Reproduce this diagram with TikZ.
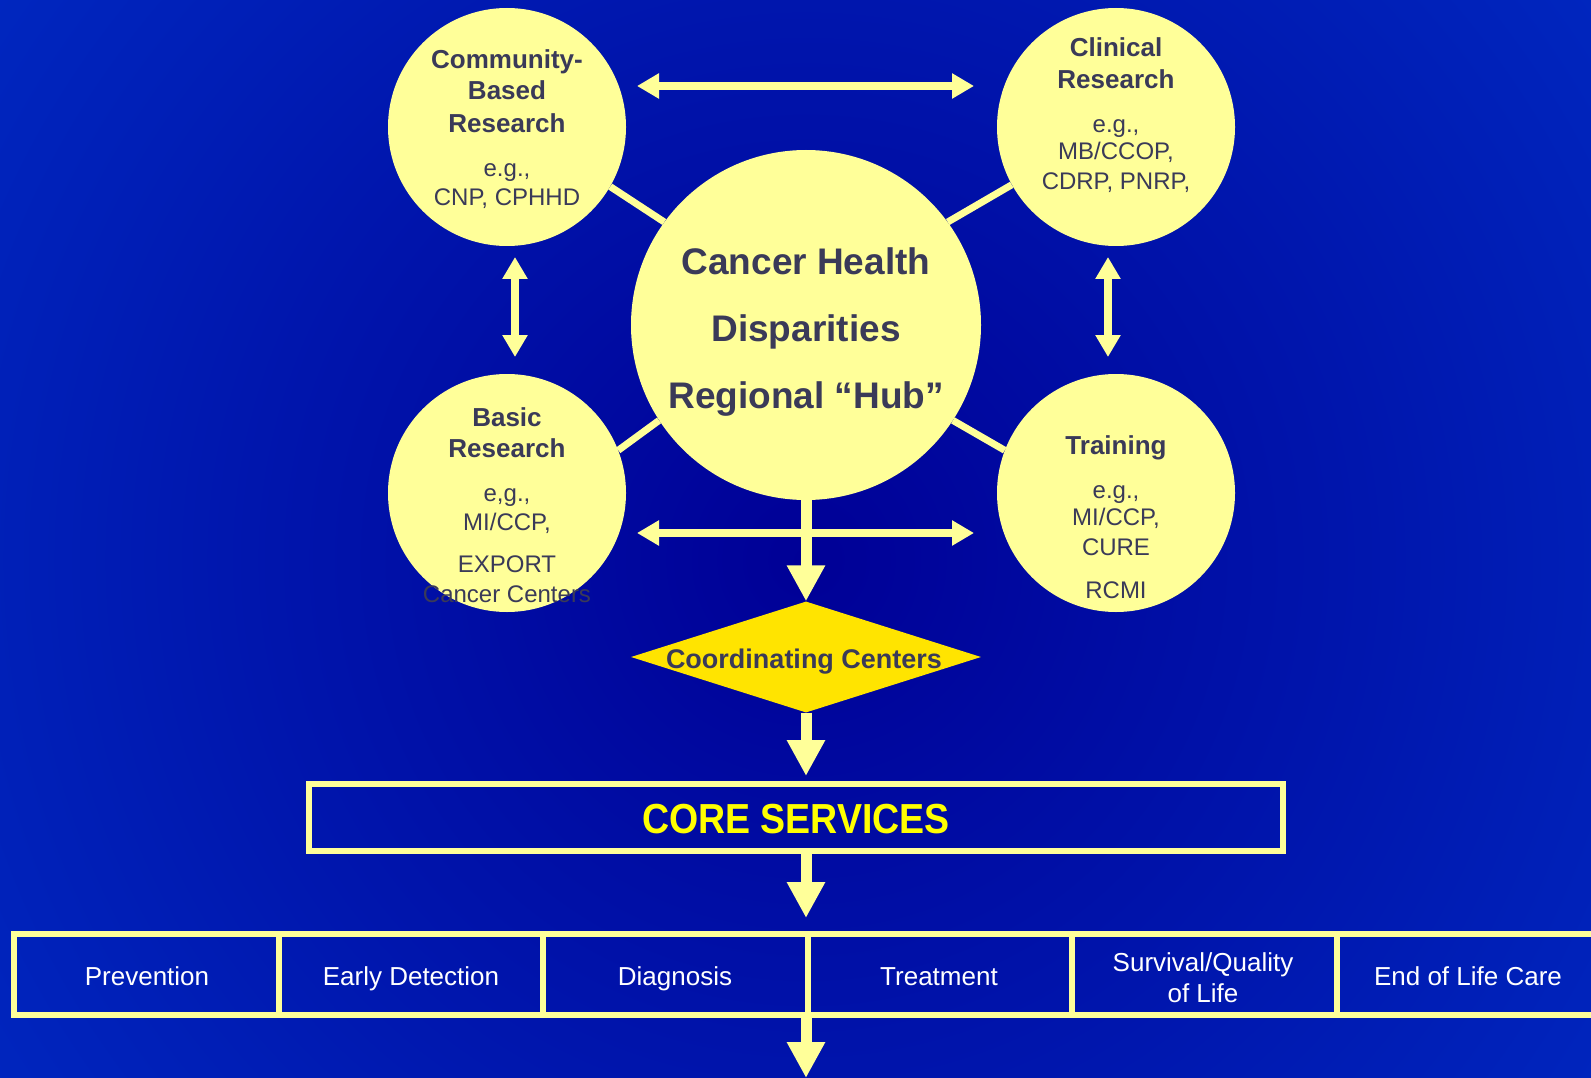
\documentclass[tikz,border=0pt]{standalone}
\usepackage{fontspec}
\setmainfont{Liberation Sans}
\usetikzlibrary{arrows.meta,shapes.geometric}
\definecolor{bgout}{RGB}{0,51,204}
\definecolor{bgin}{RGB}{0,0,150}
\definecolor{pale}{RGB}{255,255,153}
\definecolor{gold}{RGB}{255,228,0}
\definecolor{ink}{RGB}{58,58,88}
\definecolor{coretxt}{RGB}{255,255,0}
\tikzset{
  bubble/.style={circle, fill=pale, inner sep=0pt, minimum size=238pt},
  hd/.style={font=\fontsize{26}{30}\selectfont\bfseries, text=ink, inner sep=0pt, text height=18.6pt, text depth=0pt},
  sm/.style={font=\fontsize{24}{28}\selectfont, text=ink, inner sep=0pt, text height=17.2pt, text depth=0pt},
  big/.style={font=\fontsize{37}{44}\selectfont\bfseries, text=ink, inner sep=0pt, text height=26.5pt, text depth=0pt},
  link/.style={line width=7pt, draw=pale},
  dbl/.style={line width=8pt, draw=pale, {Triangle[width=24pt,length=22pt]}-{Triangle[width=24pt,length=22pt]}},
  down/.style={line width=11pt, draw=pale, -{Triangle[width=36pt,length=36pt]}},
  cellbox/.style={draw=pale, line width=6pt, minimum width=264.6pt, minimum height=81pt, inner sep=0pt},
  celltxt/.style={text=white, font=\fontsize{26}{31}\selectfont, inner sep=0pt, align=center},
  onelinetxt/.style={celltxt, text height=19.4pt, text depth=0pt},
}
\begin{document}
\begin{tikzpicture}[x=1pt,y=-1pt]
\clip (0,0) rectangle (1591,1078);
\fill[bgout] (0,0) rectangle (1591,1078);
\shade[inner color=bgin, outer color=bgout] (806,560) circle (1300pt);

% circles
\node[bubble] (comm) at (507,127) {};
\node[bubble] (clin) at (1116,127) {};
\node[bubble] (basic) at (507,493) {};
\node[bubble] (train) at (1116,493) {};
\node[bubble, minimum size=350pt] (hub) at (806,325) {};

% hub links
\draw[link] (hub.144) -- (comm.-30);
\draw[link] (hub.36) -- (clin.209);
\draw[link] (hub.213.7) -- (basic.21);
\draw[link] (hub.-33.7) -- (train.159);

% double arrows
\coordinate (ha1) at (637,86);
\coordinate (ha2) at (974,86);
\coordinate (hb1) at (637,533);
\coordinate (hb2) at (974,533);
\coordinate (va1) at (515,257);
\coordinate (va2) at (515,357);
\coordinate (vb1) at (1108,257);
\coordinate (vb2) at (1108,357);
\draw[dbl] (ha1) -- (ha2);
\draw[dbl] (hb1) -- (hb2);
\draw[dbl] (va1) -- (va2);
\draw[dbl] (vb1) -- (vb2);

% hub text
\node[big] (h1) at (806,261) {Cancer Health};
\node[big] (h2) at (806,328) {Disparities};
\node[big] (h3) at (806,395) {Regional “Hub”};

% community text
\node[hd] (cm1) at (507,59) {Community-};
\node[hd] (cm2) at (507,90) {Based};
\node[hd] (cm3) at (507,123) {Research};
\node[sm] (cm4) at (507,168) {e.g.,};
\node[sm] (cm5) at (507,197) {CNP, CPHHD};

% clinical text
\node[hd] (cl1) at (1116,47) {Clinical};
\node[hd] (cl2) at (1116,79) {Research};
\node[sm] (cl3) at (1116,124) {e.g.,};
\node[sm] (cl4) at (1116,151) {MB/CCOP,};
\node[sm] (cl5) at (1116,181) {CDRP, PNRP,};

% basic text
\node[hd] (bs1) at (507,417) {Basic};
\node[hd] (bs2) at (507,448) {Research};
\node[sm] (bs3) at (507,493) {e,g.,};
\node[sm] (bs4) at (507,522) {MI/CCP,};
\node[sm] (bs5) at (507,564) {EXPORT};
\node[sm] (bs6) at (507,594) {Cancer Centers};

% training text
\node[hd] (tr1) at (1116,445) {Training};
\node[sm] (tr2) at (1116,490) {e.g.,};
\node[sm] (tr3) at (1116,517) {MI/CCP,};
\node[sm] (tr4) at (1116,547) {CURE};
\node[sm] (tr5) at (1116,590) {RCMI};

% coordinating centers
\node[diamond, fill=gold, minimum width=350pt, minimum height=111pt, inner sep=0pt] (cc) at (806,657) {};
\node[font=\fontsize{27}{31}\selectfont\bfseries, text=ink, inner sep=0pt, text height=19.3pt, text depth=0pt] (cct) at (804,659) {Coordinating Centers};

% core services
\node[draw=pale, line width=6pt, minimum width=974pt, minimum height=67pt, inner sep=0pt] (core) at (796,817.5) {};
\node[font=\fontsize{37.5}{42}\selectfont\bfseries, text=coretxt, inner sep=0pt, text height=26.8pt, text depth=0pt] (coret) at (796,820) {\scalebox{1}[1.12]{CORE SERVICES}};

% bottom row
\node[cellbox] (prev) at (146.3,974.5) {};
\node[cellbox] (early) at (410.9,974.5) {};
\node[cellbox] (diag) at (675.5,974.5) {};
\node[cellbox] (treat) at (940.1,974.5) {};
\node[cellbox] (surv) at (1204.7,974.5) {};
\node[cellbox] (eol) at (1469.3,974.5) {};
\node[onelinetxt] (prevt) at (147,976) {Prevention};
\node[onelinetxt] (earlyt) at (411,976) {Early Detection};
\node[onelinetxt] (diagt) at (675,976) {Diagnosis};
\node[onelinetxt] (treatt) at (939,976) {Treatment};
\node[celltxt] (survt) at (1203,978) {Survival/Quality\\of Life};
\node[onelinetxt] (eolt) at (1468,976) {End of Life Care};

% flow arrows
\coordinate (bottom) at (806,1078);
\draw[down] (hub.south) -- (cc.north);
\draw[down] (cc.south) -- ([yshift=5pt]cc.south |- core.north);
\draw[down] (cc.south |- core.south) -- ([yshift=13pt]cc.south |- diag.north);
\draw[down] (cc.south |- diag.south) -- (bottom);
\end{tikzpicture}
\end{document}
